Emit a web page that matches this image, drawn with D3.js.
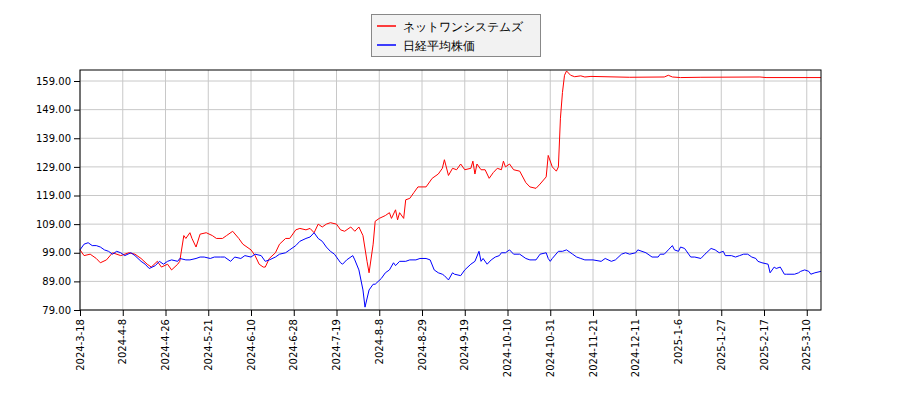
<!DOCTYPE html>
<html><head><meta charset="utf-8">
<script src="https://cdn.jsdelivr.net/npm/d3@7"></script>
<style>body{margin:0;background:#fff}text{font-family:"DejaVu Sans",sans-serif}</style>
</head><body><svg id="c" width="900" height="400"></svg>
<script>
const startDate = "2024-03-18";
const seriesNames = ["ネットワンシステムズ", "日経平均株価"];
const seriesColors = ["#ff0000", "#0000ff"];
const xTickLabels = ["2024-3-18","2024-4-8","2024-4-26","2024-5-21","2024-6-10","2024-6-28","2024-7-19","2024-8-8","2024-8-29","2024-9-19","2024-10-10","2024-10-31","2024-11-21","2024-12-11","2025-1-6","2025-1-27","2025-2-17","2025-3-10"];
const redDays = [0,2,5,8,10,13,16,20,24,27,30,33,35,38,40,43,45,48,49,51,52,54,55,57,59,62,65,67,70,72,75,78,80,84,86,88,90,91,93,96,98,101,103,106,108,111,113,115,117,119,121,123,126,128,130,133,135,137,139,141,142,144,145,147,150,152,153,155,156,157,159,160,162,164,166,170,173,176,178,179,181,183,185,187,189,192,193,194,195,197,199,201,203,205,207,208,209,211,213,216,219,221,224,226,229,230,232,234,235,236,237,238,239,241,243,246,248,251,270,287,289,291,295,305,334,337,364];
const redVals = [100,98,98.5,97,95.5,96.5,99,98,99,98.5,97,95,94,96,94,95,93,95,96,105,104,106,104,101,105.5,106,105,104,104,105,106.5,104,102,100,98,95,94,94,97,99,102,104,104,107,107.5,107,107.5,106,109,108,109,109.5,109,107,106.5,108,106.5,108,105,96,92,102,110,111,112,113,111,114,110.5,113,111,117.5,118,120,122,122,125,126.5,128.5,131.5,126,128.5,128,130,128,128.5,131,126.5,130,128,128,125,127,128.5,128,131,129,130,128,127.5,123.5,122,121.5,123,125.5,133,129,127.5,129,146,155,161,162.5,161,160.5,160.8,160.4,160.6,160.3,160.4,161,160.4,160.2,160.3,160.4,160.2,160.2];
const blueDays = [0,2,4,6,8,10,12,14,16,18,20,22,25,27,30,32,34,37,39,41,43,45,48,49,52,54,57,59,61,64,66,69,71,74,76,79,81,84,86,89,91,93,96,98,101,103,106,108,111,113,115,117,119,121,123,125,128,129,131,134,135,137,139,140,142,144,145,148,150,152,154,155,157,160,162,165,167,170,172,174,176,178,179,181,183,184,187,189,192,194,196,197,198,200,202,204,206,207,209,211,213,216,219,221,224,226,229,230,231,232,235,237,239,242,244,246,248,252,256,258,261,263,266,268,270,273,274,278,281,284,285,287,289,291,292,294,295,297,300,302,305,307,310,312,314,316,317,320,322,324,326,328,330,332,333,335,338,339,341,342,344,346,347,351,353,354,356,358,359,361,364];
const blueVals = [100,102,102.5,101.5,101.5,101,100,99.5,98.5,99.5,99,98,99,98,96,95,93.5,94.5,96,95,96,96.5,96,97,96.5,96.5,97,97.5,97.5,97,97.5,97.5,97.5,96,97.5,97,98,97.5,98.5,98,96,96.5,97.5,98.5,99,100,101.5,103,104,104.5,106,104,103,101,99.5,98.5,95.5,95,96.5,98,96.5,93,86,80,86,88,88,90,92,93,95.5,94.5,96,96,96.5,96.5,97,97,96.5,93,92,91.5,91,89.5,92,91.5,91,93,95,96,99.5,96,97,95,96.5,97.5,98,99,99,100,98.5,98.5,97,96.5,96.5,98.5,99,97,96,97,99.5,99.5,100,98.5,97.5,97,96.5,96.5,96,97,96,96.5,98.5,99,98.5,99,100,99,97.5,97.5,98.5,98.5,100,101.5,100,99.5,101,100.5,97.5,97.5,97,98.5,100.5,100,99,99.5,98,98,97.5,98,98.5,98.5,97.5,97,96,95.5,95,92,94,93.5,94,91.5,91.5,91.5,92,92.5,93,92.5,91.5,92,92.5];
const yTicks = [79,89,99,109,119,129,139,149,159];

const svg = d3.select("#c");
const L=80,R=821,T=70,B=310;
const x = d3.scaleLinear().domain([0, 364]).range([L,R]);
const y = d3.scaleLinear().domain([79, 79+(B-T)*80/229]).range([B,T]);
const xTicks = xTickLabels.map((s,i)=>i*21);

const g = svg.append("g");
g.selectAll(".vg").data(xTicks).join("line").attr("x1",d=>x(d)).attr("x2",d=>x(d)).attr("y1",T).attr("y2",B).attr("stroke","#c8c8c8");
g.selectAll(".hg").data(yTicks).join("line").attr("y1",d=>y(d)).attr("y2",d=>y(d)).attr("x1",L).attr("x2",R).attr("stroke","#c8c8c8");

const line = d3.line().x(d=>x(d[0])).y(d=>y(d[1]));
svg.append("path").datum(redDays.map((d,i)=>[d,redVals[i]])).attr("d",line).attr("fill","none").attr("stroke",seriesColors[0]).attr("stroke-width",1);
svg.append("path").datum(blueDays.map((d,i)=>[d,blueVals[i]])).attr("d",line).attr("fill","none").attr("stroke",seriesColors[1]).attr("stroke-width",1);

svg.append("rect").attr("x",L).attr("y",T).attr("width",R-L).attr("height",B-T).attr("fill","none").attr("stroke","#000");
const ya = svg.append("g").attr("transform",`translate(${L},0)`).call(d3.axisLeft(y).tickValues(yTicks).tickFormat(d3.format(".2f")).tickSizeOuter(0));
ya.select(".domain").remove();
ya.selectAll("text").attr("font-size",10).attr("fill","#000").attr("font-family","DejaVu Sans");
const xa = svg.append("g").attr("transform",`translate(0,${B})`).call(d3.axisBottom(x).tickValues(xTicks).tickFormat((d,i)=>xTickLabels[i]).tickSizeOuter(0));
xa.select(".domain").remove();
xa.selectAll("text").attr("font-size",10).attr("fill","#000").attr("font-family","DejaVu Sans")
  .attr("transform","rotate(-90)").attr("text-anchor","end").attr("x",-9).attr("y",0).attr("dy","0.32em");

const lg = svg.append("g");
lg.append("rect").attr("x",371.5).attr("y",14.5).attr("width",169).attr("height",42).attr("fill","#f2f2f2").attr("stroke","#888");
seriesNames.forEach((n,i)=>{
  const yy = 26+i*19;
  lg.append("line").attr("x1",377).attr("x2",396).attr("y1",yy).attr("y2",yy).attr("stroke",seriesColors[i]).attr("stroke-width",1.5);
  lg.append("text").attr("x",403).attr("y",yy+4.5).attr("font-size",12).attr("font-family","Noto Sans CJK JP").text(n);
});
</script></body></html>
